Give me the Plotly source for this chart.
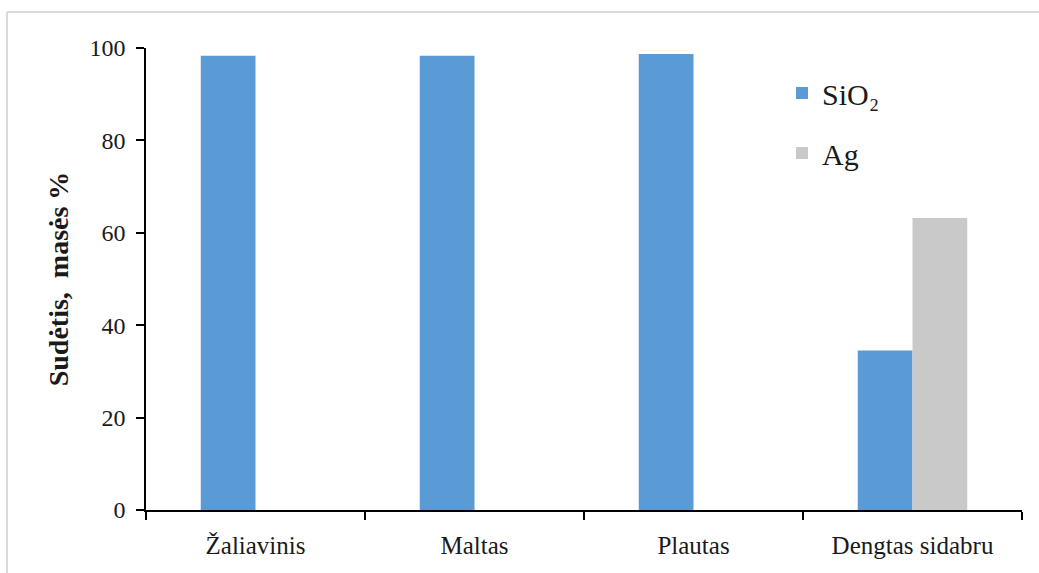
import plotly.graph_objects as go

# Composition of samples, mass %
categories = ["Žaliavinis", "Maltas", "Plautas", "Dengtas sidabru"]
sio2 = [98.3, 98.3, 98.7, 34.5]
ag = [0, 0, 0, 63.2]
y_ticks = [0, 20, 40, 60, 80, 100]

W, H = 1039, 573
ml, mr, mt, mb = 146, 17, 48, 63
pw, ph = W - ml - mr, H - mt - mb

def px_to_paper_x(px):
    return (px - ml) / pw

def px_to_paper_y(py):
    return (H - mb - py) / ph

serif = "Times New Roman"
txt = "#1a1a1a"

fig = go.Figure()
fig.add_trace(go.Bar(name="SiO₂", x=categories, y=sio2,
                     marker=dict(color="#5B9BD5", line=dict(width=0)),
                     legendgroup="a"))
fig.add_trace(go.Bar(name="Ag", x=categories, y=ag,
                     marker=dict(color="#C9C9C9", line=dict(width=0)),
                     legendgroup="b"))

# outer chart frame (top and left edges visible)
bx, by = px_to_paper_x(7), px_to_paper_y(12)
fig.add_shape(type="line", xref="paper", yref="paper",
              x0=bx, y0=px_to_paper_y(H + 5), x1=bx, y1=by,
              line=dict(color="#D9D9D9", width=2))
fig.add_shape(type="line", xref="paper", yref="paper",
              x0=bx, y0=by, x1=px_to_paper_x(W + 5), y1=by,
              line=dict(color="#D9D9D9", width=2))

fig.update_layout(
    width=W, height=H,
    margin=dict(l=ml, r=mr, t=mt, b=mb),
    paper_bgcolor="white", plot_bgcolor="white",
    barmode="group", bargap=0.5, bargroupgap=0,
    font=dict(family=serif, color=txt, size=23),
    showlegend=True,
    legend=dict(x=px_to_paper_x(782), y=px_to_paper_y(67),
                xanchor="left", yanchor="top",
                font=dict(family=serif, size=30, color=txt),
                tracegroupgap=18, traceorder="grouped",
                bgcolor="rgba(0,0,0,0)"),
    xaxis=dict(
        type="category", showgrid=False,
        showline=True, linecolor="black", linewidth=2,
        ticks="outside", tickson="boundaries", ticklen=8,
        tickwidth=2, tickcolor="black",
        tickfont=dict(family=serif, size=25, color=txt),
        ticklabelstandoff=12,
    ),
    yaxis=dict(
        range=[0, 100], tickvals=y_ticks, showgrid=False, zeroline=False,
        showline=True, linecolor="black", linewidth=1.5,
        ticks="outside", ticklen=8, tickwidth=1.5, tickcolor="black",
        tickfont=dict(family=serif, size=24, color=txt),
        ticklabelstandoff=6,
        title=dict(text="<b>Sudėtis,  masės %</b>",
                   font=dict(family=serif, size=28, color=txt),
                   standoff=13),
    ),
)

fig.write_html("out.html")
